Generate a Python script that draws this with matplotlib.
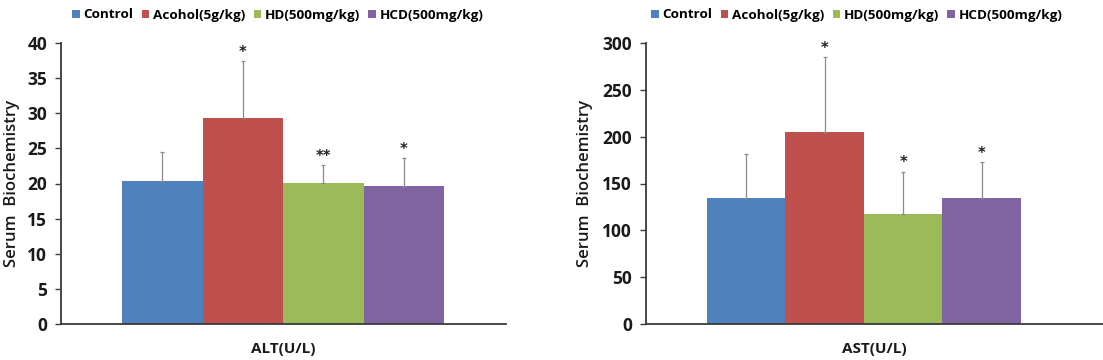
import matplotlib
matplotlib.use("Agg")
import matplotlib.pyplot as plt
from matplotlib.patches import Patch

groups = ["Control", "Acohol(5g/kg)", "HD(500mg/kg)", "HCD(500mg/kg)"]
colors = ["#4F81BD", "#C0504D", "#9BBB59", "#8064A2"]

alt_mean = [20.35, 29.3, 20.05, 19.7]
alt_err = [4.15, 8.1, 2.55, 3.9]
alt_sig = ["", "*", "**", "*"]

ast_mean = [134, 205, 117, 134]
ast_err = [47.5, 80, 45.5, 38.5]
ast_sig = ["", "*", "*", "*"]

plt.rcParams['font.family'] = ['Open Sans', 'DejaVu Sans']

fig = plt.figure(figsize=(11.03, 3.6), dpi=100)

def draw(ax, means, errs, sigs, ymax, ystep, xlabel, xlim, star_off):
    x = list(range(len(means)))
    ax.bar(x, means, width=1.0, color=colors, edgecolor='none', zorder=2)
    ax.errorbar(x, means, yerr=[[0]*len(errs), errs], fmt='none',
                ecolor='#8c8c8c', elinewidth=0.9, capsize=1.5, capthick=0.9, zorder=3)
    for xi, m, e, s in zip(x, means, errs, sigs):
        if s:
            ax.annotate(s, (xi, m + e), xytext=(0, star_off), textcoords='offset points',
                        ha='center', va='bottom', fontsize=10.5, fontweight='bold', color='#222222',
                        family='DejaVu Sans')
    ax.set_xlim(*xlim)
    ax.set_ylim(0, ymax)
    ax.set_yticks(range(0, ymax + 1, ystep))
    ax.set_xticks([])
    for sp in ['top', 'right']:
        ax.spines[sp].set_visible(False)
    for sp in ['left', 'bottom']:
        ax.spines[sp].set_color('#3a3a3a')
        ax.spines[sp].set_linewidth(1.3)
    ax.tick_params(axis='y', direction='out', length=4, width=1.0, color='#3a3a3a',
                   labelsize=12.5, pad=6, labelcolor='#1a1a1a')
    for t in ax.get_yticklabels():
        t.set_fontweight('bold')
    ax.set_ylabel("Serum  Biochemistry", fontsize=12, fontweight='semibold', color='#1a1a1a')
    ax.set_xlabel(xlabel, fontsize=11, fontweight='bold', color='#1a1a1a', labelpad=13)
    handles = [Patch(facecolor=c, edgecolor='none') for c in colors]
    return handles

ax1 = fig.add_axes([61/1103, 36/360, 445/1103, 281/360])
h = draw(ax1, alt_mean, alt_err, alt_sig, 40, 5, "ALT(U/L)", (-1.258, 4.27), 1.0)
ax1.yaxis.set_label_coords(-0.092, 0.5)
fig.legend(h, groups, loc='center', bbox_to_anchor=(278/1103, 1 - 15/360), ncol=4,
           frameon=False, prop={'size': 9.7, 'weight': 'bold'}, handlelength=0.55, handleheight=0.55,
           handletextpad=0.3, columnspacing=0.6, borderaxespad=0)

ax2 = fig.add_axes([646/1103, 36/360, 457/1103, 281/360])
h = draw(ax2, ast_mean, ast_err, ast_sig, 300, 50, "AST(U/L)", (-1.277, 4.545), 1.0)
ax2.yaxis.set_label_coords(-0.116, 0.5)
fig.legend(h, groups, loc='center', bbox_to_anchor=(857/1103, 1 - 15/360), ncol=4,
           frameon=False, prop={'size': 9.7, 'weight': 'bold'}, handlelength=0.55, handleheight=0.55,
           handletextpad=0.3, columnspacing=0.6, borderaxespad=0)

fig.savefig("out.png", dpi=100)
